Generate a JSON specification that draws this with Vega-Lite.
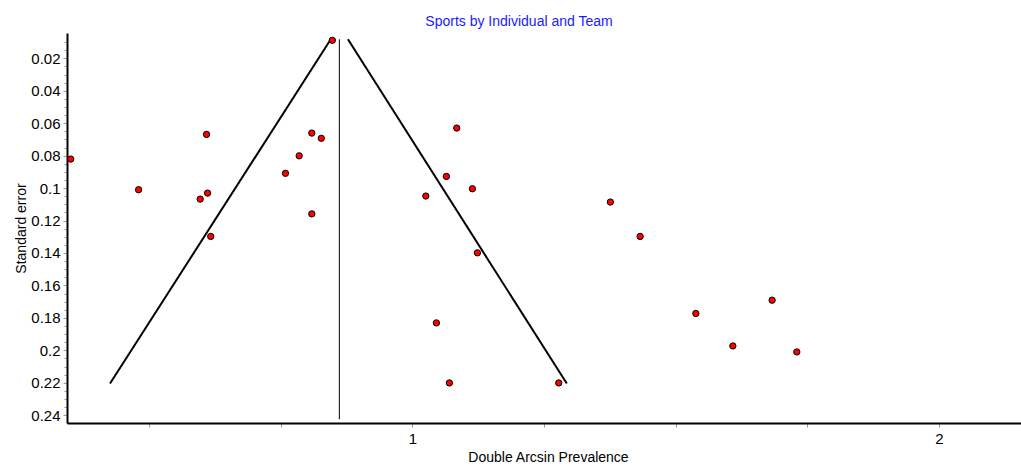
{
  "$schema": "https://vega.github.io/schema/vega-lite/v6.json",
  "width": 954,
  "height": 390,
  "autosize": {"type": "none"},
  "padding": {"left": 67, "top": 33, "right": 0, "bottom": 48},
  "background": "white",
  "title": {
    "text": "Sports by Individual and Team",
    "color": "#1a1aff",
    "font": "Liberation Sans",
    "fontSize": 14,
    "fontWeight": "normal",
    "anchor": "middle",
    "dx": -25,
    "offset": 4
  },
  "config": {
    "view": {"stroke": null},
    "font": "Liberation Sans",
    "axis": {
      "grid": false,
      "domainColor": "black",
      "domainWidth": 2,
      "tickColor": "#9a9a9a",
      "tickWidth": 1,
      "labelFont": "Liberation Sans",
      "labelColor": "black",
      "labelFontSize": 15,
      "labelOverlap": false,
      "titleFont": "Liberation Sans",
      "titleColor": "black",
      "titleFontSize": 14,
      "titleFontWeight": "normal"
    }
  },
  "datasets": {
    "studies": [
      {"x": 0.848, "se": 0.0089},
      {"x": 0.351, "se": 0.0821},
      {"x": 0.480, "se": 0.1010},
      {"x": 0.609, "se": 0.0669},
      {"x": 0.611, "se": 0.1031},
      {"x": 0.597, "se": 0.1068},
      {"x": 0.617, "se": 0.1298},
      {"x": 0.809, "se": 0.0661},
      {"x": 0.827, "se": 0.0693},
      {"x": 0.785, "se": 0.0801},
      {"x": 0.759, "se": 0.0909},
      {"x": 0.809, "se": 0.1159},
      {"x": 1.0843, "se": 0.0630},
      {"x": 1.0646, "se": 0.0928},
      {"x": 1.0255, "se": 0.1049},
      {"x": 1.114, "se": 0.1004},
      {"x": 1.376, "se": 0.1086},
      {"x": 1.4326, "se": 0.1298},
      {"x": 1.0456, "se": 0.1831},
      {"x": 1.0703, "se": 0.2201},
      {"x": 1.1235, "se": 0.1399},
      {"x": 1.278, "se": 0.2201},
      {"x": 1.5384, "se": 0.1773},
      {"x": 1.6087, "se": 0.1973},
      {"x": 1.6833, "se": 0.1691},
      {"x": 1.7302, "se": 0.2010}
    ],
    "funnel": [
      {"side": "left", "x": 0.845, "se": 0.0083},
      {"side": "left", "x": 0.4257, "se": 0.2205},
      {"side": "right", "x": 0.8776, "se": 0.0083},
      {"side": "right", "x": 1.2933, "se": 0.2205}
    ],
    "center": [
      {"x": 0.8613, "se_top": 0.0083, "se_bottom": 0.2425}
    ]
  },
  "layer": [
    {
      "data": {"name": "center"},
      "mark": {"type": "rule", "color": "black", "strokeWidth": 1},
      "encoding": {
        "x": {"field": "x", "type": "quantitative"},
        "y": {"field": "se_top", "type": "quantitative"},
        "y2": {"field": "se_bottom"}
      }
    },
    {
      "data": {"name": "funnel"},
      "mark": {"type": "line", "color": "black", "strokeWidth": 2},
      "encoding": {
        "x": {"field": "x", "type": "quantitative"},
        "y": {"field": "se", "type": "quantitative"},
        "detail": {"field": "side"}
      }
    },
    {
      "data": {"name": "studies"},
      "mark": {"type": "point", "filled": true, "fill": "#ff0000", "stroke": "black", "strokeWidth": 1, "size": 40, "opacity": 1, "shape": "circle"},
      "encoding": {
        "x": {
          "field": "x",
          "type": "quantitative",
          "scale": {"domain": [0.344, 2.156], "nice": false, "zero": false},
          "axis": {
            "title": "Double Arcsin Prevalence",
            "values": [0.5, 0.75, 1, 1.25, 1.5, 1.75, 2],
            "tickCount": 20,
            "labelExpr": "datum.value == 1 || datum.value == 2 ? format(datum.value, 'd') : ''",
            "labelOverlap": false,
            "tickSize": 4,
            "labelPadding": 4,
            "titlePadding": 4,
            "titleX": 481
          }
        },
        "y": {
          "field": "se",
          "type": "quantitative",
          "scale": {"domain": [0.0044, 0.2448], "nice": false, "zero": false, "reverse": true},
          "axis": {
            "title": "Standard error",
            "values": [0.01, 0.015, 0.02, 0.025, 0.03, 0.035, 0.04, 0.045, 0.05, 0.055, 0.06, 0.065, 0.07, 0.075, 0.08, 0.085, 0.09, 0.095, 0.1, 0.105, 0.11, 0.115, 0.12, 0.125, 0.13, 0.135, 0.14, 0.145, 0.15, 0.155, 0.16, 0.165, 0.17, 0.175, 0.18, 0.185, 0.19, 0.195, 0.2, 0.205, 0.21, 0.215, 0.22, 0.225, 0.23, 0.235, 0.24],
            "tickCount": 100,
            "labelExpr": "round(datum.value * 1000) % 20 == 0 ? format(datum.value, '~g') : ''",
            "labelOverlap": false,
            "tickSize": {"condition": {"test": "round(datum.value * 1000) % 20 == 0", "value": 4}, "value": 3},
            "labelPadding": 3,
            "titlePadding": 2
          }
        }
      }
    }
  ]
}
